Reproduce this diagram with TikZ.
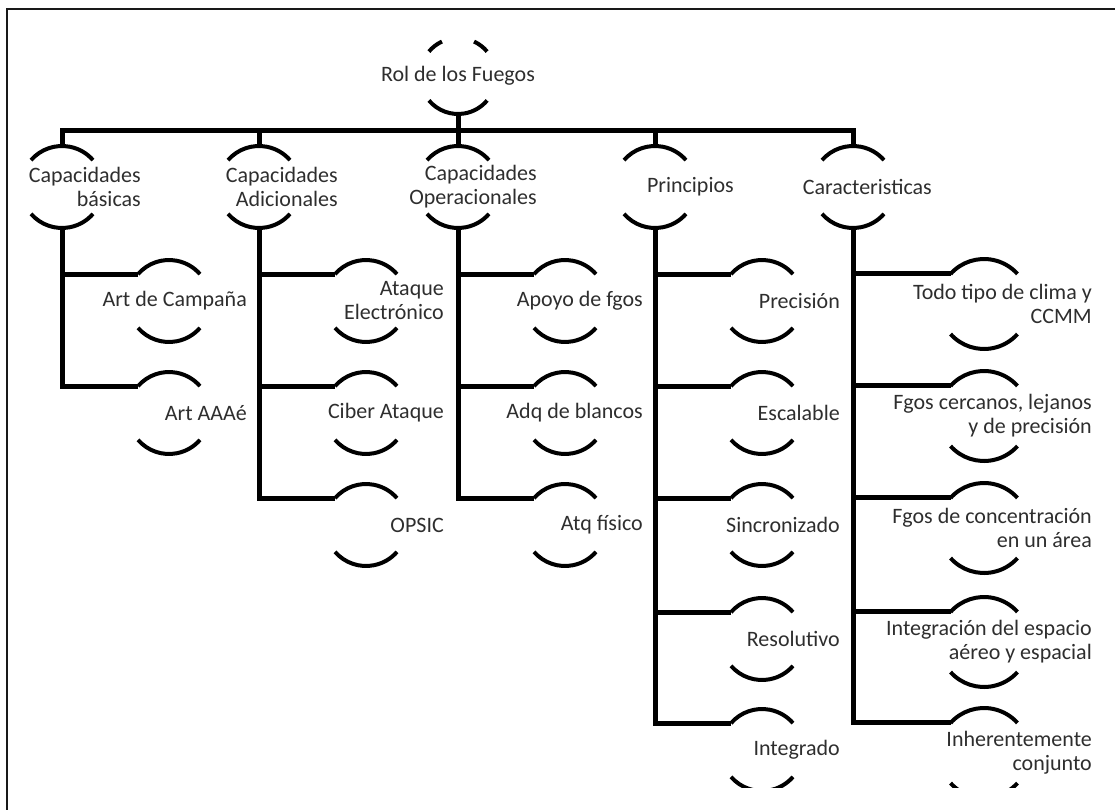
\documentclass[tikz,border=0pt]{standalone}
\usepackage{fontspec}
\setmainfont{Carlito}
\usetikzlibrary{calc}
\tikzset{
  circ/.style={circle, draw=none, inner sep=0pt, outer sep=0pt},
  arcl/.style={line width=4pt, black},
  conn/.style={line width=5pt, black},
  lbl/.style={inner sep=0pt, text=black!82, font=\fontsize{22}{24}\selectfont, align=right},
  frame/.style={line width=2.5pt, black!90}
}
% #1 name, #2 parent, #3 cx, #4 cy, #5 radius, #6 angle, #7 text offset, #8 text
\newcommand{\kidnode}[8]{%
  \node[circ, minimum size=2*#5 pt] (#1) at (#3,-#4) {};
  \draw[arcl] (#1.{180-#6}) arc[start angle={180-#6}, end angle=#6, radius=#5pt];
  \draw[arcl] (#1.{#6-180}) arc[start angle={#6-180}, end angle=-#6, radius=#5pt];
  \node[lbl, anchor=east] (#1-t) at ($(#1.center)+(#7pt,0)$) {#8};
  \draw[conn] (#2.south) |- (#1.{180-#6});
}
\begin{document}
\begin{tikzpicture}[x=1pt, y=1pt]
\useasboundingbox (0,0) rectangle (1115,-810);
\draw[frame] (7,-812) -- (7,-9) -- (1117,-9);
\begin{scope}
\clip (0,0) rectangle (1115,-787);
% root
\node[circ, minimum size=76pt] (root) at (458,-76) {};
\draw[arcl] (root.140) arc[start angle=140, end angle=115, radius=38pt];
\draw[arcl] (root.65) arc[start angle=65, end angle=40, radius=38pt];
\draw[arcl] (root.220) arc[start angle=220, end angle=320, radius=38pt];
\node[lbl] (root-t) at (458,-76) {Rol de los Fuegos};
% level 1
\foreach \n/\x/\t in {la/62/{Capacidades\\básicas}, lb/259/{Capacidades\\Adicionales}, lc/458/{Capacidades\\Operacionales}, ld/655/{Principios}, le/853/{Caracteristicas}}{
  \node[circ, minimum size=82pt] (\n) at (\x,-187) {};
  \draw[arcl] (\n.139) arc[start angle=139, end angle=41, radius=41pt];
  \draw[arcl] (\n.-139) arc[start angle=-139, end angle=-41, radius=41pt];
  \node[lbl, anchor=east] (\n-t) at ($(\n.center)+(79pt,0)$) {\t};
}
\coordinate (bus) at (458,-131);
\draw[conn] (root.south) -- (bus);
\draw[conn] (la.north) |- (bus) -| (le.north);
\draw[conn] (lb.north) -- (lb.north |- bus);
\draw[conn] (lc.north) -- (bus);
\draw[conn] (ld.north) -- (ld.north |- bus);
% column 1
\kidnode{a1}{la}{169}{301}{41}{41}{78}{Art de Campaña}
\kidnode{a2}{la}{169}{413}{41}{41}{78}{Art AAAé}
% column 2
\kidnode{b1}{lb}{366}{301}{41}{41}{78}{Ataque\\Electrónico}
\kidnode{b2}{lb}{366}{413}{41}{41}{78}{Ciber Ataque}
\kidnode{b3}{lb}{366}{525}{41}{41}{78}{OPSIC}
% column 3
\kidnode{c1}{lc}{565}{301}{41}{41}{78}{Apoyo de fgos}
\kidnode{c2}{lc}{565}{413}{41}{41}{78}{Adq de blancos}
\kidnode{c3}{lc}{565}{525}{41}{41}{78}{Atq físico}
% column 4
\kidnode{d1}{ld}{762}{301}{41}{41}{78}{Precisión}
\kidnode{d2}{ld}{762}{413}{41}{41}{78}{Escalable}
\kidnode{d3}{ld}{762}{525}{41}{41}{78}{Sincronizado}
\kidnode{d4}{ld}{762}{639}{41}{41}{78}{Resolutivo}
\kidnode{d5}{ld}{762}{750}{41}{41}{78}{Integrado}
% column 5
\kidnode{e1}{le}{984}{304}{45}{42}{108}{Todo tipo de clima y\\CCMM}
\kidnode{e2}{le}{984}{416}{45}{42}{108}{Fgos cercanos, lejanos\\y de precisión}
\kidnode{e3}{le}{984}{528}{45}{42}{108}{Fgos de concentración\\en un área}
\kidnode{e4}{le}{984}{642}{45}{42}{108}{Integración del espacio\\aéreo y espacial}
\kidnode{e5}{le}{984}{753}{45}{42}{108}{Inherentemente\\conjunto}
\end{scope}
\end{tikzpicture}
\end{document}
